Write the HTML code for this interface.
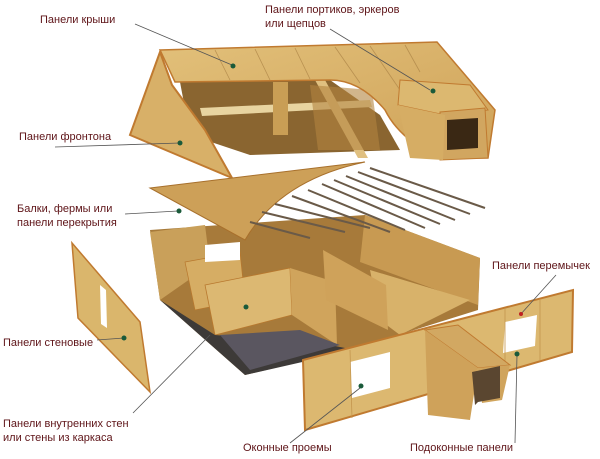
<!DOCTYPE html>
<html><head><meta charset="utf-8"><style>
body{margin:0;background:#fff;width:600px;height:459px;overflow:hidden;font-family:"Liberation Sans",sans-serif}
svg{position:absolute;left:0;top:0}
.t{font-size:11px;fill:#5e1418}
</style></head><body>
<svg width="600" height="459" viewBox="0 0 600 459">
<defs>
<linearGradient id="g" x1="0" y1="0" x2="1" y2="1"><stop offset="0" stop-color="#e2c07a"/><stop offset="1" stop-color="#cfa258"/></linearGradient>
</defs>
<!-- roof interior -->
<polygon points="180,82 330,80 380,115 400,150 250,155 190,135" fill="#8a6530"/>
<polygon points="200,108 370,100 372,107 202,116" fill="#e8d4a0"/>
<polygon points="273,82 288,82 288,135 273,135" fill="#c99e55"/>
<polygon points="315,80 325,80 368,158 358,158" fill="#e0c080"/>
<polygon points="310,85 372,90 380,150 318,150" fill="#b38440" opacity=".6"/>
<!-- roof slope -->
<path d="M160,50 L437,42 L495,110 L488,158 L440,158 Q400,140 385,110 Q360,80 330,80 L175,82 Z" fill="url(#g)" stroke="#c07a30" stroke-width="1.5"/>
<g stroke="#b89050" stroke-width=".8"><line x1="215" y1="50" x2="230" y2="80"/><line x1="255" y1="49" x2="270" y2="80"/><line x1="295" y1="48" x2="310" y2="79"/><line x1="335" y1="47" x2="360" y2="83"/><line x1="370" y1="46" x2="400" y2="90"/><line x1="405" y1="45" x2="420" y2="72"/></g>
<!-- gable -->
<polygon points="160,52 130,135 232,178 205,130 172,85" fill="#d8b068" stroke="#c07a30" stroke-width="2"/>
<!-- dormer -->
<polygon points="400,80 470,85 488,110 445,115 398,105" fill="#dcb870" stroke="#c07a30"/>
<polygon points="440,112 485,108 488,158 440,160" fill="#d1a660" stroke="#c07a30"/>
<polygon points="447,120 478,118 478,148 447,150" fill="#3a2814"/>
<polygon points="398,105 445,115 443,160 410,158" fill="#d6ad64"/>
<!-- lower house -->
<polygon points="150,230 365,215 480,258 478,310 350,350 245,375 160,300" fill="#a77a3a"/>
<polygon points="150,232 205,225 210,265 160,300" fill="#c9a05a"/>
<polygon points="365,215 480,258 478,305 360,262" fill="#c89a52"/>
<polygon points="370,270 470,300 400,335 380,320" fill="#d8b26a"/>
<polygon points="185,262 240,252 245,300 195,310" fill="#d6ad64" stroke="#b8782e" stroke-width=".7"/>
<polygon points="205,245 240,242 240,260 205,262" fill="#fff"/>
<polygon points="205,285 290,268 292,315 215,335" fill="#dcb872" stroke="#b8782e" stroke-width=".8"/>
<polygon points="290,268 335,282 337,345 292,315" fill="#d0a45c"/>
<polygon points="323,250 386,285 388,330 326,300" fill="#cfa25a"/>
<polygon points="160,300 215,335 330,345 355,350 245,375" fill="#3d3a38"/>
<polygon points="220,335 300,330 340,345 250,370" fill="#5a5660"/>
<!-- floor slab -->
<path d="M150,188 L365,162 Q280,180 245,240 Z" fill="#cda058" stroke="#a8702c"/>
<g stroke="#6a5a48" stroke-width="2">
<line x1="370" y1="168" x2="485" y2="208"/><line x1="358" y1="172" x2="470" y2="214"/><line x1="346" y1="176" x2="455" y2="220"/><line x1="334" y1="180" x2="440" y2="224"/><line x1="322" y1="184" x2="425" y2="228"/><line x1="308" y1="190" x2="405" y2="230"/><line x1="292" y1="196" x2="390" y2="232"/><line x1="275" y1="204" x2="370" y2="228"/><line x1="262" y1="212" x2="345" y2="232"/><line x1="250" y1="222" x2="310" y2="238"/>
</g>
<!-- left wall -->
<polygon points="72,243 140,322 150,392 78,318" fill="#dab66c" stroke="#c07a30" stroke-width="1.5"/>
<polygon points="100,285 106,290 107,328 101,324" fill="#fff"/>
<!-- front wall -->
<polygon points="303,360 573,290 572,352 305,430" fill="#dcb870" stroke="#c07a30" stroke-width="2"/>
<polygon points="350,362 390,352 390,388 352,398" fill="#fff"/>
<polygon points="505,322 537,315 535,346 503,353" fill="#fff"/>
<g stroke="#c4964e" stroke-width=".8"><line x1="350" y1="350" x2="352" y2="418"/><line x1="430" y1="328" x2="432" y2="395"/><line x1="505" y1="308" x2="505" y2="372"/><line x1="540" y1="300" x2="540" y2="360"/></g>
<polygon points="425,330 458,325 510,365 478,368" fill="#d2a862" stroke="#c07a30"/>
<polygon points="425,330 478,368 470,420 428,415" fill="#cfa25a"/>
<polygon points="478,368 510,365 502,400 482,403" fill="#d0a45c"/>
<polygon points="472,372 500,366 500,398 478,402 475,405" fill="#5a4630"/>
<!-- leader lines -->
<g stroke="#555" stroke-width=".8">
<line x1="135" y1="24" x2="232" y2="65"/><line x1="330" y1="29" x2="430" y2="90"/>
<line x1="55" y1="147" x2="180" y2="143"/><line x1="125" y1="214" x2="178" y2="211"/>
<line x1="556" y1="275" x2="520" y2="315"/><line x1="97" y1="340" x2="124" y2="338"/>
<line x1="133" y1="413" x2="210" y2="335"/><line x1="290" y1="443" x2="360" y2="388"/>
<line x1="515" y1="443" x2="517" y2="355"/>
</g>
<g fill="#1a5a3a"><circle cx="233" cy="66" r="2.5"/><circle cx="433" cy="91" r="2.5"/><circle cx="180" cy="143" r="2.5"/><circle cx="179" cy="211" r="2.5"/><circle cx="124" cy="338" r="2.5"/><circle cx="246" cy="307" r="2.5"/><circle cx="361" cy="386" r="2.5"/><circle cx="517" cy="354" r="2.5"/></g>
<circle cx="521" cy="314" r="2" fill="#c02020"/>
<text class="t" x="40" y="23">Панели крыши</text>
<text class="t" x="127" y="16" dx="0" style="display:none"></text>
<text class="t" x="265" y="13">Панели портиков, эркеров</text>
<text class="t" x="265" y="27">или щепцов</text>
<text class="t" x="19" y="140">Панели фронтона</text>
<text class="t" x="17" y="212">Балки, фермы или</text>
<text class="t" x="17" y="226">панели перекрытия</text>
<text class="t" x="492" y="269">Панели перемычек</text>
<text class="t" x="3" y="346">Панели стеновые</text>
<text class="t" x="3" y="427">Панели внутренних стен</text>
<text class="t" x="3" y="441">или стены из каркаса</text>
<text class="t" x="243" y="451">Оконные проемы</text>
<text class="t" x="410" y="451">Подоконные панели</text>
</svg>
</body></html>
